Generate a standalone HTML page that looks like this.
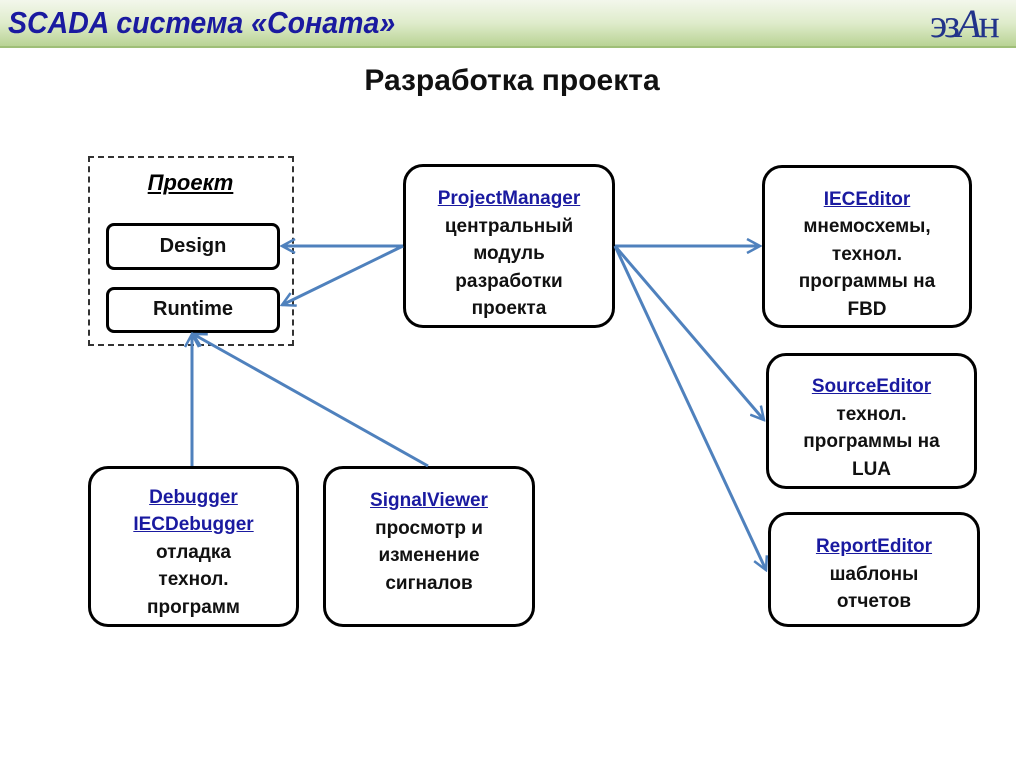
<!DOCTYPE html>
<html><head><meta charset="utf-8"><style>
body{margin:0;width:1024px;height:767px;background:#fff;position:relative;overflow:hidden;font-family:"Liberation Sans",sans-serif}
.hdr{position:absolute;left:0;top:0;width:1016px;height:46px;background:linear-gradient(to bottom,#f3f7ec 0%,#dfeccb 50%,#b9d395 100%);border-bottom:2px solid #9fbf78}
.hdr .t{position:absolute;left:8px;top:5px;font-size:31px;font-weight:bold;font-style:italic;color:#1a1aa0;transform:scaleX(0.92);transform-origin:left}
.logo{position:absolute;left:930px;top:0px;font-size:40px;font-family:"Liberation Serif",serif;color:#22338a;letter-spacing:-3px}
.title{position:absolute;left:0;width:1024px;top:64px;text-align:center;font-size:30px;font-weight:bold;color:#111}
.b{position:absolute;border:3px solid #000;border-radius:20px;box-sizing:border-box;text-align:center;font-weight:bold;font-size:19px;line-height:27.5px;color:#111;display:flex;flex-direction:column;justify-content:center}
.b u{color:#1a1aa0}
.s{border-radius:8px;font-size:20px}
</style></head><body>
<div class="hdr"><div class="t">SCADA система «Соната»</div></div>
<div class="logo">эз<i>А</i>н</div>
<div class="title">Разработка проекта</div>
<div style="position:absolute;left:88px;top:156px;width:206px;height:190px;border:2px dashed #333;box-sizing:border-box"></div>
<div style="position:absolute;left:88px;top:170px;width:205px;text-align:center;font-size:22px;font-weight:bold;font-style:italic;text-decoration:underline">Проект</div>
<div class="b s" style="left:106px;top:223px;width:174px;height:47px">Design</div>
<div class="b s" style="left:106px;top:287px;width:174px;height:46px">Runtime</div>
<div class="b" style="left:403px;top:164px;width:212px;height:164px;padding-top:16px"><u>ProjectManager</u>центральный<br>модуль<br>разработки<br>проекта</div>
<div class="b" style="left:762px;top:165px;width:210px;height:163px;padding-top:16px"><u>IECEditor</u>мнемосхемы,<br>технол.<br>программы на<br>FBD</div>
<div class="b" style="left:766px;top:353px;width:211px;height:136px;padding-top:14px"><u>SourceEditor</u>технол.<br>программы на<br>LUA</div>
<div class="b" style="left:768px;top:512px;width:212px;height:115px;padding-top:10px"><u>ReportEditor</u>шаблоны<br>отчетов</div>
<div class="b" style="left:88px;top:466px;width:211px;height:161px;padding-top:12px"><u>Debugger</u><u>IECDebugger</u>отладка<br>технол.<br>программ</div>
<div class="b" style="left:323px;top:466px;width:212px;height:161px;justify-content:flex-start;padding-top:18px"><u>SignalViewer</u>просмотр и<br>изменение<br>сигналов</div>
<svg width="1024" height="767" style="position:absolute;left:0;top:0">
<defs><marker id="a" markerWidth="16" markerHeight="16" refX="14" refY="8" orient="auto" markerUnits="userSpaceOnUse"><path d="M1,1 L14,8 L1,15" fill="none" stroke="#4f81bd" stroke-width="2.5"/></marker></defs>
<g stroke="#4f81bd" stroke-width="3" fill="none" marker-end="url(#a)">
<line x1="403" y1="246" x2="282" y2="246"/>
<line x1="403" y1="246" x2="282" y2="305"/>
<line x1="615" y1="246" x2="760" y2="246"/>
<line x1="615" y1="246" x2="764" y2="420"/>
<line x1="615" y1="246" x2="766" y2="570"/>
<line x1="192" y1="466" x2="192" y2="334"/>
<line x1="428" y1="466" x2="193" y2="334"/>
</g></svg>
</body></html>
